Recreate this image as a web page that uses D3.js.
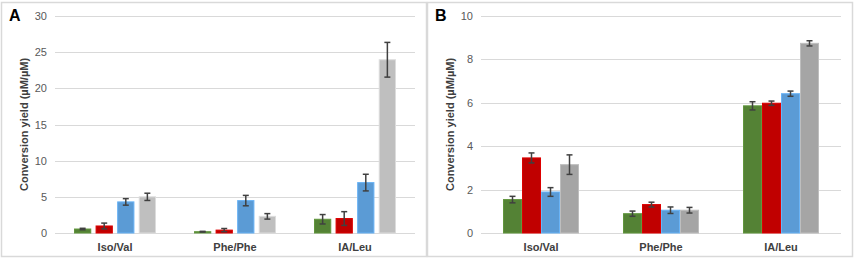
<!DOCTYPE html>
<html>
<head>
<meta charset="utf-8">
<script src="https://cdn.jsdelivr.net/npm/d3@7"></script>
<style>
  body { margin: 0; background: #fff; }
  svg { display: block; font-family: 'Liberation Sans', Arial, sans-serif; }
</style>
</head>
<body>
<div id="chart"></div>
<script>
// categories and series
const categories = ['Iso/Val', 'Phe/Phe', 'IA/Leu'];
const seriesColors = ['#548235', '#c00000', '#5b9bd5'];

// panel A
const ticksA = [0, 5, 10, 15, 20, 25, 30];
const valuesA = [
  [0.55, 0.18, 1.9],
  [0.97, 0.4, 2.0],
  [4.3, 4.48, 6.97],
  [5.0, 2.3, 23.95]
];
const errorsA = [
  [0.1, 0.05, 0.65],
  [0.4, 0.22, 0.95],
  [0.45, 0.72, 1.15],
  [0.5, 0.38, 2.4]
];

// panel B
const ticksB = [0, 2, 4, 6, 8, 10];
const valuesB = [
  [1.54, 0.89, 5.86],
  [3.46, 1.31, 5.98],
  [1.89, 1.05, 6.42],
  [3.15, 1.05, 8.74]
];
const errorsB = [
  [0.15, 0.12, 0.19],
  [0.23, 0.11, 0.1],
  [0.2, 0.15, 0.12],
  [0.45, 0.13, 0.12]
];

const W = 856, H = 262;
const svg = d3.select('#chart').append('svg').attr('width', W).attr('height', H);

function panel(opts) {
  const { x0, label, ticks, values, errors, gray, innerPad, barPad } = opts;
  const g = svg.append('g').attr('transform', `translate(${x0},0)`);
  const colors = seriesColors.concat([gray]);

  // frame
  g.append('rect')
    .attr('x', 1.5).attr('y', 2.5)
    .attr('width', 425).attr('height', 254)
    .attr('fill', 'none').attr('stroke', '#d9d9d9').attr('stroke-width', 1.5);

  const left = 55, right = 415, top = 16, bottom = 233;
  const y = d3.scaleLinear().domain([0, d3.max(ticks)]).range([bottom, top]);
  const x = d3.scaleBand().domain(categories).range([left, right]).paddingInner(0).paddingOuter(0);
  const xs = d3.scaleBand().domain(d3.range(colors.length))
    .range([innerPad, x.bandwidth() - innerPad]).paddingInner(barPad);

  // gridlines
  g.append('g').selectAll('line').data(ticks).join('line')
    .attr('x1', left).attr('x2', right)
    .attr('y1', d => Math.round(y(d)) + 0.5).attr('y2', d => Math.round(y(d)) + 0.5)
    .attr('stroke', '#d9d9d9').attr('stroke-width', 1);

  // y axis labels
  const ya = g.append('g').attr('transform', `translate(${left - 8},0)`)
    .call(d3.axisLeft(y).tickValues(ticks).tickSize(0).tickPadding(0));
  ya.select('.domain').remove();
  ya.selectAll('text').attr('fill', '#595959').style('font-size', '11px')
    .style('font-family', "'Liberation Sans', Arial, sans-serif");

  // x axis labels
  const xa = g.append('g').attr('transform', `translate(0,${bottom})`)
    .call(d3.axisBottom(x).tickSize(0).tickPadding(10));
  xa.select('.domain').remove();
  xa.selectAll('text').attr('fill', '#404040').style('font-size', '11px').style('font-weight', 'bold')
    .style('font-family', "'Liberation Sans', Arial, sans-serif");

  // bars
  colors.forEach((c, si) => {
    const sg = g.append('g');
    sg.selectAll('rect').data(values[si]).join('rect')
      .attr('x', (d, i) => x(categories[i]) + xs(si) + 0.5)
      .attr('y', d => y(d))
      .attr('width', xs.bandwidth() - 1)
      .attr('height', d => bottom - y(d))
      .attr('fill', c)
      .attr('stroke', d3.color(c).brighter(0.4))
      .attr('stroke-width', 1);

    // error bars
    const eg = sg.append('g').attr('stroke', '#404040').attr('stroke-width', 1.5);
    values[si].forEach((v, i) => {
      const cx = x(categories[i]) + xs(si) + xs.bandwidth() / 2;
      const e = errors[si][i];
      eg.append('line').attr('x1', cx).attr('x2', cx).attr('y1', y(v + e)).attr('y2', y(v - e));
      eg.append('line').attr('x1', cx - 3).attr('x2', cx + 3).attr('y1', y(v + e)).attr('y2', y(v + e));
      eg.append('line').attr('x1', cx - 3).attr('x2', cx + 3).attr('y1', y(v - e)).attr('y2', y(v - e));
    });
  });

  // y title
  g.append('text')
    .attr('transform', `translate(28,${(top + bottom) / 2}) rotate(-90)`)
    .attr('text-anchor', 'middle')
    .attr('fill', '#404040')
    .style('font-size', '11px').style('font-weight', 'bold')
    .text('Conversion yield (µM/µM)');

  // panel label
  g.append('text').attr('x', 9).attr('y', 21)
    .style('font-size', '16px').style('font-weight', 'bold').attr('fill', '#000')
    .text(label);
}

panel({ x0: 0, label: 'A', ticks: ticksA, values: valuesA, errors: errorsA, gray: '#bfbfbf', innerPad: 19, barPad: 0.2 });
panel({ x0: 426, label: 'B', ticks: ticksB, values: valuesB, errors: errorsB, gray: '#a5a5a5', innerPad: 22, barPad: 0 });
</script>
</body>
</html>
